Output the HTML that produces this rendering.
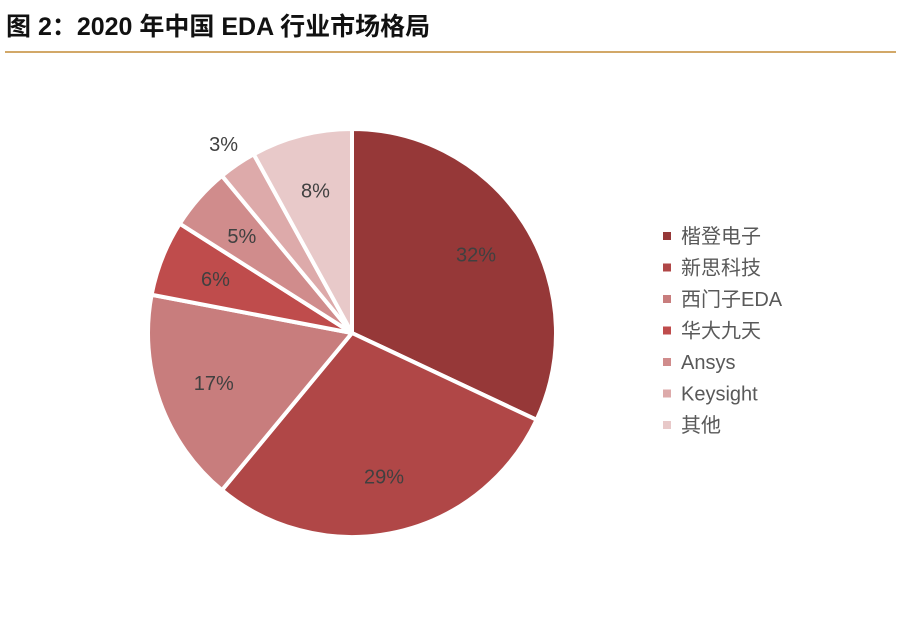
<!DOCTYPE html>
<html><head><meta charset="utf-8"><style>
body{margin:0;background:#fff;width:900px;height:615px;overflow:hidden;font-family:"Liberation Sans","Noto Sans CJK SC",sans-serif}
</style></head><body>
<svg width="900" height="615">
<text x="6" y="35" font-size="25" font-weight="bold" fill="#111" font-family="'Liberation Sans','Noto Sans CJK SC',sans-serif">图 2：2020 年中国 EDA 行业市场格局</text>
<line x1="5" y1="52" x2="896" y2="52" stroke="#D2A868" stroke-width="2"/>
<g id="pie"></g>
<g id="legend"></g>
</svg>
<script>
const categories=["楷登电子","新思科技","西门子EDA","华大九天","Ansys","Keysight","其他"];
const values=[32,29,17,6,5,3,8];
const colors=["#963838","#B04747","#C87D7D","#BF4C4C","#D08C8C","#DDAAAA","#E8C9C9"];
const ns="http://www.w3.org/2000/svg";
const cx=352,cy=333,r=204;
const total=values.reduce((a,b)=>a+b,0);
const pie=document.getElementById('pie');
let a=0;
function pt(ang,rad){return [cx+rad*Math.sin(ang),cy-rad*Math.cos(ang)];}
values.forEach((v,i)=>{
  const a0=a, a1=a+v/total*2*Math.PI; a=a1;
  const p0=pt(a0,r),p1=pt(a1,r);
  const path=document.createElementNS(ns,'path');
  path.setAttribute('d',`M${cx},${cy}L${p0[0]},${p0[1]}A${r},${r} 0 ${a1-a0>Math.PI?1:0} 1 ${p1[0]},${p1[1]}Z`);
  path.setAttribute('fill',colors[i]);
  path.setAttribute('stroke','#fff');
  path.setAttribute('stroke-width','4');
  path.setAttribute('stroke-linejoin','round');
  
  
  pie.appendChild(path);
  const mid=(a0+a1)/2;
  const lr= v<4 ? r*1.12 : r*0.72;
  const lp=pt(mid,lr);
  const t=document.createElementNS(ns,'text');
  t.setAttribute('x',lp[0]);t.setAttribute('y',lp[1]+7);
  t.setAttribute('text-anchor','middle');t.setAttribute('font-size','20');
  t.setAttribute('fill','#404040');
  
  
  t.textContent=v+'%';
  pie.appendChild(t);
});
const lg=document.getElementById('legend');
categories.forEach((c,i)=>{
  const y=236+i*31.5;
  const rc=document.createElementNS(ns,'rect');
  rc.setAttribute('x',663);rc.setAttribute('y',y-4);rc.setAttribute('width',8);rc.setAttribute('height',8);
  rc.setAttribute('fill',colors[i]);
  
  
  lg.appendChild(rc);
  const t=document.createElementNS(ns,'text');
  t.setAttribute('x',681);t.setAttribute('y',y+7);t.setAttribute('font-size','20');t.setAttribute('fill','#595959');
  
  
  t.textContent=c;
  lg.appendChild(t);
});
</script>
</body></html>
